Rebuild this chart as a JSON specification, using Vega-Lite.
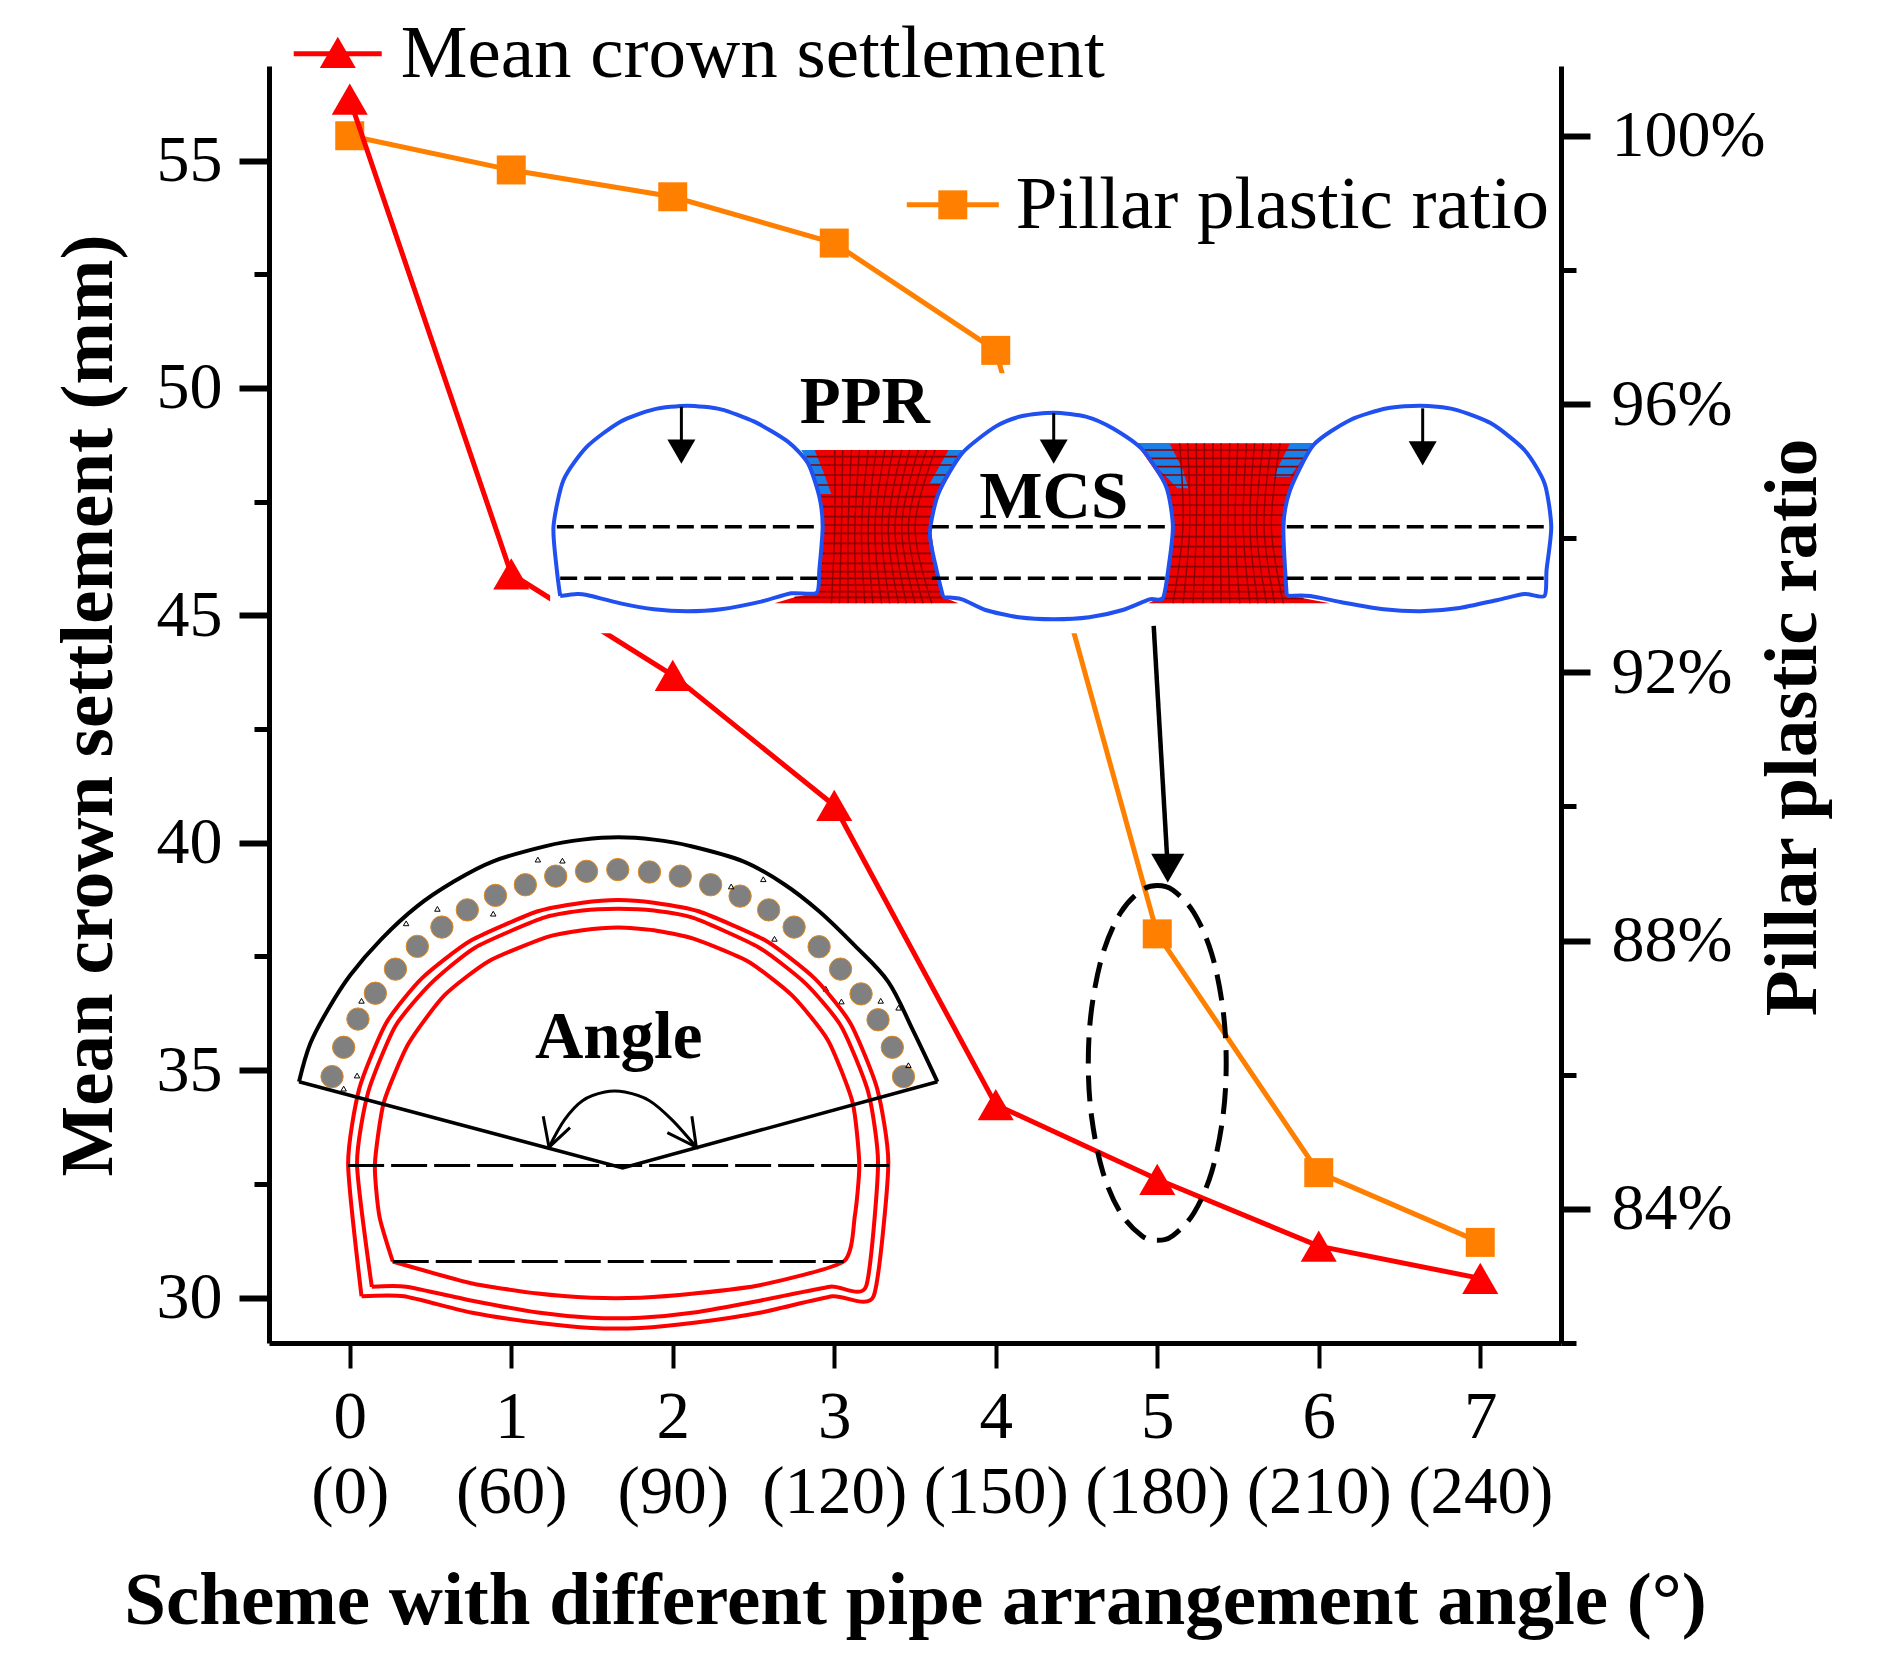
{"$schema":"https://vega.github.io/schema/vega-lite/v6.json","width":1292,"height":1277,"autosize":{"type":"none"},"padding":{"left":269,"top":66,"right":331,"bottom":335},"background":"white","config":{"view":{"stroke":null},"font":"Liberation Serif"},
"datasets":{"main":[{"scheme":0,"angle":0,"crown":56.35,"ratio":100},{"scheme":1,"angle":60,"crown":45.91,"ratio":99.49},{"scheme":2,"angle":90,"crown":43.68,"ratio":99.09},{"scheme":3,"angle":120,"crown":40.82,"ratio":98.4},{"scheme":4,"angle":150,"crown":34.24,"ratio":96.8},{"scheme":5,"angle":180,"crown":32.6,"ratio":88.1},{"scheme":6,"angle":210,"crown":31.13,"ratio":84.54},{"scheme":7,"angle":240,"crown":30.42,"ratio":83.5}]},
"layer":[
{"data":{"name":"main"},"encoding":{"x":{"field":"scheme","type":"quantitative","scale":{"domain":[-0.5,7.5],"nice":false,"zero":false},"axis":null},"y":{"field":"ratio","type":"quantitative","scale":{"domain":[82,101.04],"nice":false,"zero":false},"axis":{"orient":"right","title":"Pillar plastic ratio","values":[82,84,86,88,90,92,94,96,98,100],"labelExpr":"datum.value % 4 === 0 ? datum.value + '%' : ''","grid":false,"domainColor":"black","domainWidth":5,"tickColor":"black","tickSize":{"condition":{"test":"datum.value % 4 === 0","value":29},"value":15},"tickWidth":{"condition":{"test":"datum.value % 4 === 0","value":6},"value":5},"labelFont":"Liberation Serif","labelFontSize":66,"labelColor":"black","labelPadding":21,"labelOverlap":false,"labelBound":false,"titleFont":"Liberation Serif","titleFontWeight":"bold","titleFontSize":75,"titleColor":"black","titleAngle":270,"titleBaseline":"middle","titleX":231,"titleY":661}}},
"layer":[
{"mark":{"type":"line","color":"#FF8000","strokeWidth":5}},
{"mark":{"type":"point","shape":"square","filled":true,"color":"#FF8000","opacity":1,"size":841}},
{"data":{"values":[{"scheme":3.449,"ratio":98.97},{"scheme":4.019,"ratio":98.97}]},"mark":{"type":"line","color":"#FF8000","strokeWidth":5}},
{"data":{"values":[{"scheme":3.734,"ratio":98.97}]},"mark":{"type":"point","shape":"square","filled":true,"color":"#FF8000","opacity":1,"size":841}},
{"data":{"values":[{"scheme":4.124,"ratio":98.97,"label":"Pillar plastic ratio"}]},"mark":{"type":"text","align":"left","baseline":"middle","font":"Liberation Serif","fontSize":75,"color":"black"},"encoding":{"text":{"field":"label"}}}
]},
{"data":{"name":"main"},"encoding":{"x":{"field":"scheme","type":"quantitative","scale":{"domain":[-0.5,7.5],"nice":false,"zero":false},"axis":{"title":"Scheme with different pipe arrangement angle (°)","values":[0,1,2,3,4,5,6,7],"labelExpr":"[format(datum.value,'d'),'('+[0,60,90,120,150,180,210,240][datum.value]+')']","grid":false,"domainColor":"black","domainWidth":5,"tickColor":"black","tickSize":25,"tickWidth":4,"labelFont":"Liberation Serif","labelFontSize":67,"labelColor":"black","labelLineHeight":75,"labelPadding":16,"labelOverlap":false,"labelBound":false,"labelAngle":0,"titleFont":"Liberation Serif","titleFontWeight":"bold","titleFontSize":75,"titleColor":"black","titleBaseline":"middle","titleX":646,"titleY":257}},"y":{"field":"crown","type":"quantitative","scale":{"domain":[29,57.08],"nice":false,"zero":false},"axis":{"title":"Mean crown settlement (mm)","values":[30,32.5,35,37.5,40,42.5,45,47.5,50,52.5,55],"labelExpr":"datum.value % 5 === 0 ? datum.value : ''","grid":false,"domainColor":"black","domainWidth":5,"tickColor":"black","tickSize":{"condition":{"test":"datum.value % 5 === 0","value":30},"value":15},"tickWidth":{"condition":{"test":"datum.value % 5 === 0","value":6},"value":5},"labelFont":"Liberation Serif","labelFontSize":66,"labelColor":"black","labelPadding":17,"labelOverlap":false,"labelBound":false,"titleFont":"Liberation Serif","titleFontWeight":"bold","titleFontSize":75,"titleColor":"black","titleAngle":270,"titleBaseline":"middle","titleX":-181,"titleY":639}}},
"layer":[
{"mark":{"type":"line","color":"#FF0000","strokeWidth":5}},
{"mark":{"type":"point","shape":"triangle-up","filled":true,"color":"#FF0000","opacity":1,"size":1300}},
{"data":{"values":[{"scheme":-0.347,"crown":57.35},{"scheme":0.198,"crown":57.35}]},"mark":{"type":"line","color":"#FF0000","strokeWidth":5}},
{"data":{"values":[{"scheme":-0.074,"crown":57.38}]},"mark":{"type":"point","shape":"triangle-up","filled":true,"color":"#FF0000","opacity":1,"size":1300}},
{"data":{"values":[{"scheme":0.316,"crown":57.35,"label":"Mean crown settlement"}]},"mark":{"type":"text","align":"left","baseline":"middle","font":"Liberation Serif","fontSize":75,"color":"black"},"encoding":{"text":{"field":"label"}}}
]},
{"encoding":{"x":{"field":"x","type":"quantitative","scale":{"domain":[0,1568],"range":[251,1301],"nice":false,"zero":false},"axis":null},"y":{"field":"y","type":"quantitative","scale":{"domain":[0,870],"range":[304,594],"nice":false,"zero":false},"axis":null}},
"layer":[
{"data":{"values":[{"x":45,"x2":1546,"y":10,"y2":790}]},"mark":{"type":"rect","color":"white"},"encoding":{"x2":{"field":"x2"},"y2":{"field":"y2"}}},
{"data":{"values":[{"p":"a","y":240,"x":425,"x2":660},{"p":"a","y":280,"x":432,"x2":648},{"p":"a","y":380,"x":447,"x2":625},{"p":"a","y":470,"x":452,"x2":613},{"p":"a","y":600,"x":447,"x2":622},{"p":"a","y":668,"x":443,"x2":628},{"p":"a","y":682,"x":410,"x2":632},{"p":"a","y":700,"x":380,"x2":655},{"p":"b","y":220,"x":920,"x2":1185},{"p":"b","y":350,"x":965,"x2":1150},{"p":"b","y":470,"x":975,"x2":1140},{"p":"b","y":600,"x":968,"x2":1143},{"p":"b","y":678,"x":962,"x2":1145},{"p":"b","y":685,"x":955,"x2":1170},{"p":"b","y":700,"x":938,"x2":1210}]},"mark":{"type":"area","orient":"horizontal","color":"#F00000","opacity":1},"encoding":{"x2":{"field":"x2"},"detail":{"field":"p"}}},
{"data":{"values":[{"p":"a","y":240,"x":420,"x2":440},{"p":"a","y":300,"x":437,"x2":452},{"p":"a","y":372,"x":447,"x2":465},{"p":"b","y":240,"x":640,"x2":660},{"p":"b","y":340,"x":612,"x2":628},{"p":"c","y":220,"x":920,"x2":970},{"p":"c","y":300,"x":955,"x2":990},{"p":"c","y":355,"x":982,"x2":998},{"p":"d","y":220,"x":1150,"x2":1185},{"p":"d","y":320,"x":1125,"x2":1150}]},"mark":{"type":"area","orient":"horizontal","color":"#1A80E6","opacity":1},"encoding":{"x2":{"field":"x2"},"detail":{"field":"p"}}},
{"data":{"values":[{"x":428,"x2":655,"y":260},{"x":433,"x2":646,"y":285},{"x":438,"x2":638,"y":315},{"x":444,"x2":630,"y":345},{"x":447,"x2":625,"y":380},{"x":450,"x2":618,"y":410},{"x":451,"x2":615,"y":440},{"x":452,"x2":613,"y":465},{"x":452,"x2":613,"y":490},{"x":451,"x2":615,"y":520},{"x":450,"x2":618,"y":550},{"x":448,"x2":620,"y":580},{"x":447,"x2":622,"y":605},{"x":446,"x2":624,"y":625},{"x":445,"x2":626,"y":645},{"x":443,"x2":628,"y":665},{"x":410,"x2":632,"y":682},{"x":930,"x2":1178,"y":240},{"x":940,"x2":1170,"y":265},{"x":947,"x2":1163,"y":290},{"x":955,"x2":1157,"y":315},{"x":963,"x2":1150,"y":345},{"x":968,"x2":1146,"y":375},{"x":972,"x2":1143,"y":405},{"x":974,"x2":1141,"y":435},{"x":975,"x2":1140,"y":465},{"x":974,"x2":1140,"y":500},{"x":973,"x2":1141,"y":530},{"x":971,"x2":1142,"y":560},{"x":969,"x2":1143,"y":590},{"x":967,"x2":1143,"y":620},{"x":965,"x2":1144,"y":645},{"x":963,"x2":1145,"y":665},{"x":955,"x2":1170,"y":685}]},"mark":{"type":"rule","color":"#8B0000","strokeWidth":1.6},"encoding":{"x2":{"field":"x2"}}},
{"data":{"values":[{"k":1,"x":470,"y":240},{"k":1,"x":470,"y":470},{"k":1,"x":465,"y":700},{"k":2,"x":495,"y":240},{"k":2,"x":490,"y":470},{"k":2,"x":490,"y":700},{"k":3,"x":520,"y":240},{"k":3,"x":510,"y":470},{"k":3,"x":515,"y":700},{"k":4,"x":545,"y":240},{"k":4,"x":530,"y":470},{"k":4,"x":540,"y":700},{"k":5,"x":570,"y":240},{"k":5,"x":550,"y":470},{"k":5,"x":565,"y":700},{"k":6,"x":595,"y":240},{"k":6,"x":570,"y":470},{"k":6,"x":590,"y":700},{"k":7,"x":620,"y":240},{"k":7,"x":590,"y":470},{"k":7,"x":615,"y":700},{"k":8,"x":985,"y":220},{"k":8,"x":990,"y":470},{"k":8,"x":975,"y":700},{"k":9,"x":1010,"y":220},{"k":9,"x":1010,"y":470},{"k":9,"x":1005,"y":700},{"k":10,"x":1035,"y":220},{"k":10,"x":1035,"y":470},{"k":10,"x":1035,"y":700},{"k":11,"x":1060,"y":220},{"k":11,"x":1057,"y":470},{"k":11,"x":1060,"y":700},{"k":12,"x":1085,"y":220},{"k":12,"x":1080,"y":470},{"k":12,"x":1090,"y":700},{"k":13,"x":1110,"y":220},{"k":13,"x":1100,"y":470},{"k":13,"x":1115,"y":700},{"k":14,"x":1135,"y":220},{"k":14,"x":1122,"y":470},{"k":14,"x":1140,"y":700},{"k":15,"x":482,"y":240},{"k":15,"x":480,"y":470},{"k":15,"x":477,"y":700},{"k":16,"x":507,"y":240},{"k":16,"x":500,"y":470},{"k":16,"x":502,"y":700},{"k":17,"x":532,"y":240},{"k":17,"x":520,"y":470},{"k":17,"x":527,"y":700},{"k":18,"x":557,"y":240},{"k":18,"x":540,"y":470},{"k":18,"x":552,"y":700},{"k":19,"x":582,"y":240},{"k":19,"x":560,"y":470},{"k":19,"x":577,"y":700},{"k":20,"x":607,"y":240},{"k":20,"x":580,"y":470},{"k":20,"x":602,"y":700},{"k":21,"x":997,"y":220},{"k":21,"x":1000,"y":470},{"k":21,"x":990,"y":700},{"k":22,"x":1022,"y":220},{"k":22,"x":1022,"y":470},{"k":22,"x":1020,"y":700},{"k":23,"x":1047,"y":220},{"k":23,"x":1046,"y":470},{"k":23,"x":1047,"y":700},{"k":24,"x":1072,"y":220},{"k":24,"x":1068,"y":470},{"k":24,"x":1075,"y":700},{"k":25,"x":1097,"y":220},{"k":25,"x":1090,"y":470},{"k":25,"x":1102,"y":700},{"k":26,"x":1122,"y":220},{"k":26,"x":1111,"y":470},{"k":26,"x":1127,"y":700}]},"mark":{"type":"line","color":"#8B0000","strokeWidth":1.4,"interpolate":"cardinal"},"encoding":{"detail":{"field":"k"},"order":{"field":"y"}}},
{"data":{"values":[{"t":"a","x":60,"y":678},{"t":"a","x":55,"y":600},{"t":"a","x":50,"y":470},{"t":"a","x":65,"y":330},{"t":"a","x":100,"y":230},{"t":"a","x":150,"y":155},{"t":"a","x":200,"y":118},{"t":"a","x":250,"y":107},{"t":"a","x":300,"y":118},{"t":"a","x":350,"y":155},{"t":"a","x":400,"y":215},{"t":"a","x":430,"y":280},{"t":"a","x":447,"y":380},{"t":"a","x":452,"y":470},{"t":"a","x":447,"y":600},{"t":"a","x":443,"y":668},{"t":"a","x":405,"y":670},{"t":"a","x":360,"y":695},{"t":"a","x":300,"y":718},{"t":"a","x":250,"y":724},{"t":"a","x":200,"y":718},{"t":"a","x":150,"y":700},{"t":"a","x":100,"y":675},{"t":"a","x":85,"y":672},{"t":"a","x":60,"y":678},
{"t":"b","x":632,"y":682},{"t":"b","x":622,"y":600},{"t":"b","x":612,"y":490},{"t":"b","x":625,"y":370},{"t":"b","x":660,"y":250},{"t":"b","x":710,"y":170},{"t":"b","x":750,"y":138},{"t":"b","x":797,"y":128},{"t":"b","x":845,"y":140},{"t":"b","x":885,"y":175},{"t":"b","x":930,"y":240},{"t":"b","x":965,"y":350},{"t":"b","x":975,"y":470},{"t":"b","x":968,"y":600},{"t":"b","x":960,"y":685},{"t":"b","x":940,"y":688},{"t":"b","x":900,"y":720},{"t":"b","x":850,"y":742},{"t":"b","x":797,"y":748},{"t":"b","x":745,"y":742},{"t":"b","x":695,"y":720},{"t":"b","x":660,"y":688},{"t":"b","x":632,"y":682},
{"t":"c","x":1145,"y":678},{"t":"c","x":1140,"y":470},{"t":"c","x":1150,"y":360},{"t":"c","x":1185,"y":225},{"t":"c","x":1240,"y":150},{"t":"c","x":1295,"y":115},{"t":"c","x":1345,"y":107},{"t":"c","x":1395,"y":118},{"t":"c","x":1450,"y":160},{"t":"c","x":1500,"y":240},{"t":"c","x":1530,"y":340},{"t":"c","x":1540,"y":470},{"t":"c","x":1533,"y":600},{"t":"c","x":1530,"y":678},{"t":"c","x":1500,"y":672},{"t":"c","x":1460,"y":690},{"t":"c","x":1400,"y":715},{"t":"c","x":1345,"y":724},{"t":"c","x":1290,"y":718},{"t":"c","x":1230,"y":698},{"t":"c","x":1180,"y":678},{"t":"c","x":1145,"y":678}]},"mark":{"type":"line","color":"#2050F0","strokeWidth":4,"interpolate":"cardinal","tension":0.3},"encoding":{"detail":{"field":"t"},"order":{"value":null}}},
{"data":{"values":[{"x":55,"x2":442,"y":470},{"x":615,"x2":968,"y":470},{"x":1145,"x2":1533,"y":470},{"x":60,"x2":445,"y":625},{"x":615,"x2":965,"y":625},{"x":1145,"x2":1530,"y":625}]},"mark":{"type":"rule","color":"black","strokeWidth":3.5,"strokeDash":[17,7]},"encoding":{"x2":{"field":"x2"}}},
{"data":{"values":[{"x":241,"y":110,"y2":250},{"x":797,"y":130,"y2":250},{"x":1348,"y":115,"y2":250}]},"mark":{"type":"rule","color":"black","strokeWidth":3},"encoding":{"y2":{"field":"y2"}}},
{"data":{"values":[{"x":241,"y":245},{"x":797,"y":245},{"x":1348,"y":250}]},"mark":{"type":"point","shape":"triangle-down","filled":true,"color":"black","opacity":1,"size":784}},
{"data":{"values":[{"x":515,"y":158,"label":"PPR"},{"x":797,"y":445,"label":"MCS"}]},"mark":{"type":"text","align":"center","baseline":"alphabetic","font":"Liberation Serif","fontWeight":"bold","fontSize":67,"color":"black"},"encoding":{"text":{"field":"label"}}}
]},
{"encoding":{"x":{"field":"x","type":"quantitative","scale":{"domain":[-0.5,7.5],"nice":false,"zero":false},"axis":null},"y":{"field":"y","type":"quantitative","scale":{"domain":[29,57.08],"nice":false,"zero":false},"axis":null}},
"layer":[
{"data":{"values":[{"x":4.978,"y":44.77},{"x":5.065,"y":39.44}]},"mark":{"type":"line","color":"black","strokeWidth":4.5},"encoding":{"order":{"value":null}}},
{"data":{"values":[{"x":5.065,"y":39.44}]},"mark":{"type":"point","shape":"triangle-down","filled":true,"color":"black","opacity":1,"size":1100}},
{"data":{"values":[{"x":5.0,"y":39.06},{"x":5.096,"y":38.96},{"x":5.227,"y":38.46},{"x":5.337,"y":37.56},{"x":5.406,"y":36.36},{"x":5.427,"y":35.16},{"x":5.406,"y":33.96},{"x":5.337,"y":32.76},{"x":5.227,"y":31.86},{"x":5.096,"y":31.36},{"x":5.0,"y":31.26},{"x":4.904,"y":31.36},{"x":4.773,"y":31.86},{"x":4.663,"y":32.76},{"x":4.594,"y":33.96},{"x":4.573,"y":35.16},{"x":4.594,"y":36.36},{"x":4.663,"y":37.56},{"x":4.773,"y":38.46},{"x":4.904,"y":38.96},{"x":5.0,"y":39.06}]},"mark":{"type":"line","color":"black","strokeWidth":5,"strokeDash":[26,12],"interpolate":"cardinal"},"encoding":{"order":{"value":null}}}
]},
{"encoding":{"x":{"field":"x","type":"quantitative","scale":{"domain":[0,1568],"range":[1,701],"nice":false,"zero":false},"axis":null},"y":{"field":"y","type":"quantitative","scale":{"domain":[0,1568],"range":[754,1294],"nice":false,"zero":false},"axis":null}},
"layer":[
{"data":{"values":[{"x":139,"y":745},{"x":165,"y":660},{"x":197,"y":578},{"x":236,"y":503},{"x":281,"y":433},{"x":330,"y":367},{"x":385,"y":311},{"x":442,"y":261},{"x":505,"y":219},{"x":572,"y":188},{"x":640,"y":163},{"x":709,"y":149},{"x":779,"y":144},{"x":850,"y":151},{"x":919,"y":163},{"x":987,"y":188},{"x":1053,"y":221},{"x":1117,"y":261},{"x":1174,"y":311},{"x":1230,"y":368},{"x":1278,"y":433},{"x":1324,"y":505},{"x":1362,"y":580},{"x":1394,"y":660},{"x":1419,"y":745}]},"mark":{"type":"point","shape":"circle","filled":true,"fill":"#808080","stroke":"#E08A20","strokeWidth":1,"opacity":1,"size":500}},
{"data":{"values":[{"x":600,"y":115},{"x":655,"y":118},{"x":375,"y":258},{"x":305,"y":300},{"x":500,"y":272},{"x":1105,"y":172},{"x":1033,"y":193},{"x":1130,"y":345},{"x":1245,"y":490},{"x":1280,"y":527},{"x":1368,"y":525},{"x":1408,"y":545},{"x":1430,"y":712},{"x":195,"y":742},{"x":205,"y":525},{"x":165,"y":780}]},"mark":{"type":"point","shape":"triangle-up","filled":false,"color":"black","strokeWidth":1,"opacity":1,"size":30}},
{"data":{"values":[{"t":"o","x":205,"y":1383},{"t":"o","x":175,"y":1000},{"t":"o","x":200,"y":780},{"t":"o","x":260,"y":590},{"t":"o","x":340,"y":460},{"t":"o","x":450,"y":350},{"t":"o","x":600,"y":265},{"t":"o","x":700,"y":240},{"t":"o","x":780,"y":232},{"t":"o","x":860,"y":240},{"t":"o","x":960,"y":265},{"t":"o","x":1110,"y":350},{"t":"o","x":1220,"y":460},{"t":"o","x":1300,"y":590},{"t":"o","x":1360,"y":780},{"t":"o","x":1385,"y":1000},{"t":"o","x":1352,"y":1383},{"t":"o","x":1260,"y":1383},{"t":"o","x":1100,"y":1430},{"t":"o","x":950,"y":1460},{"t":"o","x":830,"y":1475},{"t":"o","x":720,"y":1475},{"t":"o","x":600,"y":1460},{"t":"o","x":450,"y":1430},{"t":"o","x":300,"y":1383},{"t":"o","x":205,"y":1383},
{"t":"m","x":228,"y":1355},{"t":"m","x":195,"y":1000},{"t":"m","x":220,"y":790},{"t":"m","x":280,"y":600},{"t":"m","x":360,"y":475},{"t":"m","x":460,"y":370},{"t":"m","x":610,"y":285},{"t":"m","x":700,"y":263},{"t":"m","x":780,"y":258},{"t":"m","x":860,"y":263},{"t":"m","x":950,"y":285},{"t":"m","x":1095,"y":370},{"t":"m","x":1200,"y":475},{"t":"m","x":1280,"y":600},{"t":"m","x":1340,"y":790},{"t":"m","x":1362,"y":1000},{"t":"m","x":1335,"y":1355},{"t":"m","x":1255,"y":1355},{"t":"m","x":1100,"y":1395},{"t":"m","x":950,"y":1430},{"t":"m","x":830,"y":1445},{"t":"m","x":720,"y":1445},{"t":"m","x":600,"y":1430},{"t":"m","x":450,"y":1395},{"t":"m","x":305,"y":1355},{"t":"m","x":228,"y":1355},
{"t":"i","x":275,"y":1282},{"t":"i","x":245,"y":1150},{"t":"i","x":235,"y":1000},{"t":"i","x":255,"y":820},{"t":"i","x":310,"y":650},{"t":"i","x":390,"y":510},{"t":"i","x":490,"y":410},{"t":"i","x":620,"y":340},{"t":"i","x":700,"y":320},{"t":"i","x":780,"y":312},{"t":"i","x":860,"y":320},{"t":"i","x":950,"y":345},{"t":"i","x":1070,"y":410},{"t":"i","x":1170,"y":510},{"t":"i","x":1250,"y":640},{"t":"i","x":1305,"y":820},{"t":"i","x":1320,"y":1000},{"t":"i","x":1310,"y":1150},{"t":"i","x":1285,"y":1282},{"t":"i","x":1100,"y":1350},{"t":"i","x":950,"y":1375},{"t":"i","x":830,"y":1387},{"t":"i","x":720,"y":1387},{"t":"i","x":600,"y":1375},{"t":"i","x":450,"y":1345},{"t":"i","x":275,"y":1282}]},"mark":{"type":"line","color":"#FF0000","strokeWidth":4,"interpolate":"cardinal","tension":0.4},"encoding":{"detail":{"field":"t"},"order":{"value":null}}},
{"data":{"values":[{"x":65,"y":760},{"x":90,"y":650},{"x":130,"y":550},{"x":180,"y":450},{"x":250,"y":345},{"x":330,"y":250},{"x":410,"y":180},{"x":500,"y":120},{"x":620,"y":75},{"x":700,"y":57},{"x":780,"y":50},{"x":860,"y":57},{"x":940,"y":75},{"x":1060,"y":120},{"x":1150,"y":185},{"x":1230,"y":265},{"x":1310,"y":365},{"x":1385,"y":470},{"x":1440,"y":610},{"x":1495,"y":760}]},"mark":{"type":"line","color":"black","strokeWidth":4,"interpolate":"cardinal"},"encoding":{"order":{"value":null}}},
{"data":{"values":[{"x":1495,"y":760},{"x":790,"y":1010},{"x":65,"y":760}]},"mark":{"type":"line","color":"black","strokeWidth":3.5},"encoding":{"order":{"value":null}}},
{"data":{"values":[{"x":175,"x2":1387,"y":1003},{"x":275,"x2":1285,"y":1282}]},"mark":{"type":"rule","color":"black","strokeWidth":3,"strokeDash":[36,7]},"encoding":{"x2":{"field":"x2"}}},
{"data":{"values":[{"k":"arc","x":625,"y":950},{"k":"arc","x":660,"y":870},{"k":"arc","x":700,"y":815},{"k":"arc","x":750,"y":790},{"k":"arc","x":795,"y":790},{"k":"arc","x":850,"y":815},{"k":"arc","x":900,"y":870},{"k":"arc","x":955,"y":950}]},"mark":{"type":"line","color":"black","strokeWidth":3,"interpolate":"cardinal"},"encoding":{"detail":{"field":"k"},"order":{"value":null}}},
{"data":{"values":[{"k":"b1","x":612,"y":860},{"k":"b1","x":625,"y":950},{"k":"b1","x":672,"y":893},{"k":"b2","x":945,"y":860},{"k":"b2","x":955,"y":950},{"k":"b2","x":890,"y":908}]},"mark":{"type":"line","color":"black","strokeWidth":3},"encoding":{"detail":{"field":"k"},"order":{"value":null}}},
{"data":{"values":[{"x":781,"y":692,"label":"Angle"}]},"mark":{"type":"text","align":"center","baseline":"alphabetic","font":"Liberation Serif","fontWeight":"bold","fontSize":67,"color":"black"},"encoding":{"text":{"field":"label"}}}
]}
],
"resolve":{"scale":{"x":"independent","y":"independent"}}}
